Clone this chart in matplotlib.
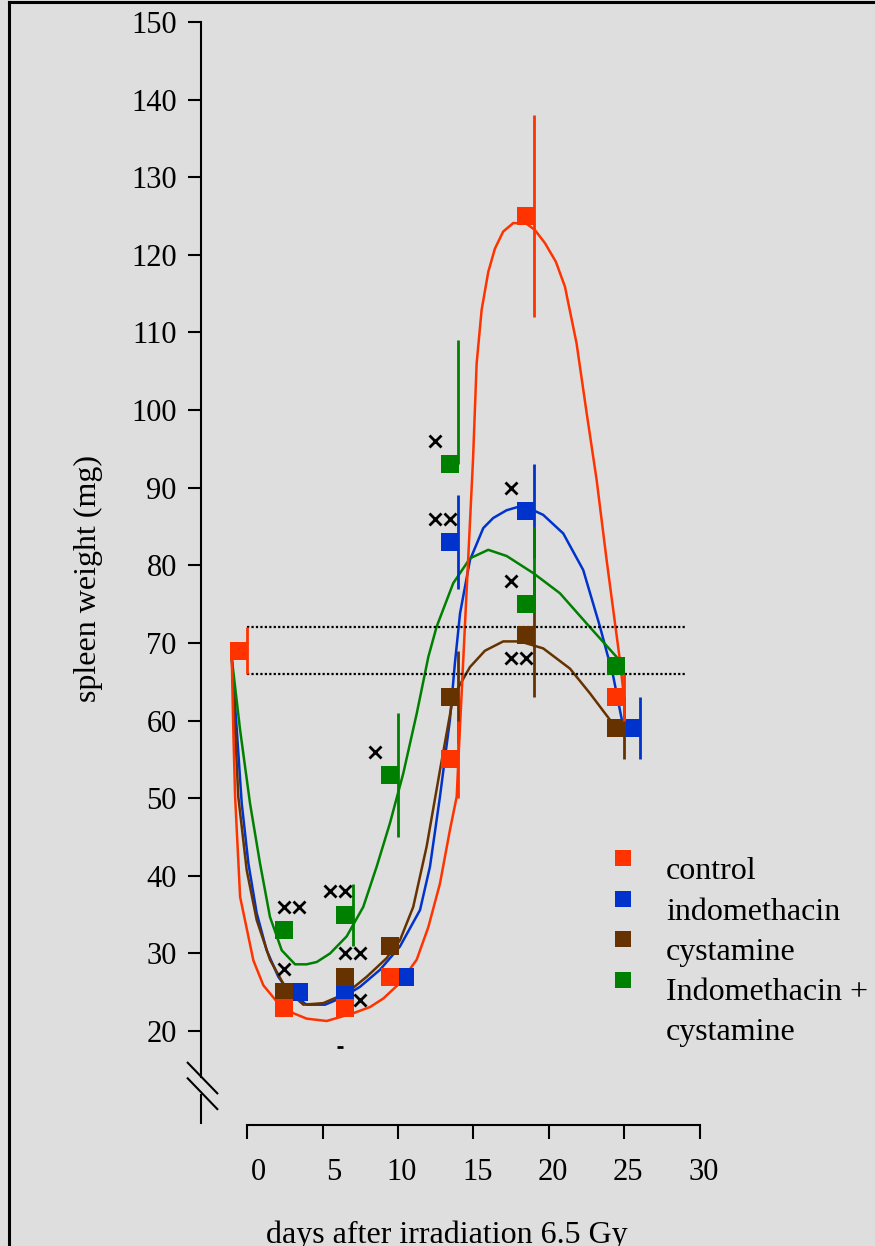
import matplotlib
matplotlib.use("Agg")
import matplotlib.pyplot as plt
import matplotlib.transforms as mtransforms
from matplotlib.lines import Line2D
import numpy as np

plt.rcParams["font.family"] = ["Liberation Serif", "DejaVu Serif"]

# measured group means (day, spleen weight mg) and error bars (below / above)
ctrl_days = [0, 3, 7, 10, 14, 19, 25]
ctrl_vals = [69, 23, 23, 27, 55, 125, 63]
ctrl_lo = [3, 0, 0, 0, 5, 13, 3]
ctrl_hi = [3, 0, 0, 0, 5, 13, 3]

indo_days = [4, 7, 11, 14, 19, 26]
indo_vals = [25, 25, 27, 83, 87, 59]
indo_lo = [0, 0, 0, 6, 6, 4]
indo_hi = [0, 0, 0, 6, 6, 4]

cyst_days = [3, 7, 10, 14, 19, 25]
cyst_vals = [25, 27, 31, 63, 71, 59]
cyst_lo = [0, 0, 0, 6, 8, 4]
cyst_hi = [0, 0, 0, 6, 8, 4]

both_days = [3, 7, 10, 14, 19, 25]
both_vals = [33, 35, 53, 93, 75, 67]
both_lo = [0, 4, 8, 0, 0, 0]
both_hi = [0, 4, 8, 16, 10, 0]

# fitted curves
ctrl_fit_x = [-1.01, -0.91, -0.79, -0.46, 0.42, 1.08, 1.97, 3.07, 3.95, 5.28, 7.04, 8.15,
              9.03, 10.13, 11.24, 12.01, 12.78, 13.44, 13.89, 14.0, 14.97, 15.21, 15.54,
              15.98, 16.42, 16.97, 17.64, 18.52, 19.07, 19.74, 20.46, 21.06, 21.83, 22.5,
              23.16, 23.82, 24.7, 24.97]
ctrl_fit_y = [68.0, 58.8, 50.2, 37.3, 29.1, 25.9, 23.8, 22.3, 21.6, 21.3, 22.3, 23.1,
              24.2, 26.2, 29.2, 33.4, 39.0, 45.9, 50.2, 54.9, 93.6, 106.0, 112.9,
              117.8, 120.8, 123.0, 124.1, 124.0, 123.2, 121.5, 119.1, 115.9, 108.6, 99.6,
              91.0, 80.7, 67.8, 63.0]

indo_fit_x = [-1.01, -0.68, -0.35, 0.09, 0.64, 1.30, 2.07, 2.85, 3.95, 5.17, 6.38, 7.48,
              8.81, 10.13, 11.46, 12.12, 12.78, 13.44, 13.77, 14.11, 14.77, 15.65, 16.31,
              17.2, 18.08, 18.96, 19.62, 20.95, 22.27, 23.38, 24.26, 24.92]
indo_fit_y = [68.0, 58.8, 49.3, 41.6, 35.2, 30.4, 27.0, 24.9, 23.4, 23.4, 24.4, 25.7,
              27.9, 30.9, 35.6, 41.2, 50.2, 60.1, 67.4, 73.8, 80.7, 84.8, 86.1,
              87.1, 87.6, 87.1, 86.5, 84.1, 79.4, 72.1, 65.7, 59.2]

cyst_fit_x = [-1.01, -0.58, -0.02, 0.64, 1.52, 2.63, 3.73, 5.05, 6.6, 7.93, 9.25, 10.13,
              11.01, 11.9, 12.78, 13.66, 14.77, 15.76, 16.97, 18.08, 19.62, 21.39, 22.72,
              24.04, 24.97]
cyst_fit_y = [68.0, 50.2, 40.7, 34.3, 29.2, 25.3, 23.4, 23.6, 24.9, 27.0, 29.4, 31.7,
              36.0, 43.8, 53.6, 63.1, 66.9, 69.0, 70.2, 70.2, 69.3, 66.7, 63.5,
              60.1, 58.9]

both_fit_x = [-1.01, -0.46, 0.2, 0.86, 1.52, 2.3, 3.18, 3.95, 4.62, 5.5, 6.6, 7.7, 8.59,
              9.47, 10.35, 11.24, 12.01, 12.56, 13.66, 14.77, 15.98, 17.2, 18.96, 20.73,
              22.5, 24.48]
both_fit_y = [68.0, 58.8, 49.3, 41.6, 34.7, 30.4, 28.6, 28.6, 28.9, 30.0, 32.2, 36.0, 41.2,
              46.8, 53.2, 60.9, 68.2, 72.1, 77.7, 80.9, 82.0, 81.2, 79.0, 76.4,
              72.5, 68.2]

# significance marks (x) and the lone dash
sig_days = [3, 3, 4, 6, 7, 7, 8, 8, 9, 13, 13, 14, 18, 18, 18, 19]
sig_vals = [28, 36, 36, 38, 38, 30, 30, 24, 56, 96, 86, 86, 90, 78, 68, 68]
dash_day, dash_val = 6.7, 18

normal_range = [66, 72]
x_ticks = [0, 5, 10, 15, 20, 25, 30]
y_ticks = list(range(20, 151, 10))

RED, BLUE, BROWN, GREEN = "#ff3300", "#0033cc", "#663300", "#008000"
BG = "#dedede"

fig = plt.figure(figsize=(8.75, 12.46), dpi=100, facecolor=BG)
ax = fig.add_axes([201 / 875, 121 / 1246, 674 / 875, 1125 / 1246])
ax.set_facecolor("none")
ax.set_xlim(-3.05, 41.6)
ax.set_ylim(7.9, 152.83)

sq = mtransforms.offset_copy(ax.transData, fig=fig, x=-8, y=0, units="dots")

for fx, fy, c in [(indo_fit_x, indo_fit_y, BLUE), (cyst_fit_x, cyst_fit_y, BROWN),
                  (both_fit_x, both_fit_y, GREEN), (ctrl_fit_x, ctrl_fit_y, RED)]:
    ax.plot(fx, fy, color=c, lw=1.8, zorder=2)

ax.hlines(normal_range, 0, 29, colors="black", linestyles=(0, (1, 1)), lw=1.6, zorder=2)

groups = [
    (indo_days, indo_vals, indo_lo, indo_hi, BLUE),
    (cyst_days, cyst_vals, cyst_lo, cyst_hi, BROWN),
    (both_days, both_vals, both_lo, both_hi, GREEN),
    (ctrl_days, ctrl_vals, ctrl_lo, ctrl_hi, RED),
]
for i, (d, v, lo, hi, c) in enumerate(groups):
    v = np.array(v)
    ax.vlines(d, v - np.array(lo), v + np.array(hi), colors=c, lw=2, zorder=3 + i)
    ax.plot(d, v, "s", color=c, ms=12.4, mec=c, mew=0, transform=sq, zorder=3 + i, clip_on=False)

ax.plot(sig_days, sig_vals, "x", color="black", ms=8.5, mew=2, transform=sq, zorder=10)
ax.plot([dash_day], [dash_val], "_", color="black", ms=4, mew=2, transform=sq, zorder=10)

# axes styling
for s in ["top", "right"]:
    ax.spines[s].set_visible(False)
ax.spines["left"].set_linewidth(1.5)
ax.spines["bottom"].set_linewidth(1.5)
ax.spines["left"].set_bounds(14.1, 150)
ax.spines["bottom"].set_bounds(0, 30)
ax.plot([-3.05, -3.05], [8.15, 11.8], color="black", lw=1.5, clip_on=False)
ax.plot([-3.93, -1.97], [15.92, 11.98], color="black", lw=1.5, clip_on=False)
ax.plot([-3.93, -1.97], [13.91, 9.95], color="black", lw=1.5, clip_on=False)

ax.set_yticks(y_ticks)
ax.set_xticks(x_ticks)
ax.tick_params(axis="y", length=9.4, width=1.5, pad=8, labelsize=22)
ax.tick_params(axis="x", length=10, width=1.5, pad=14, labelsize=22)
for lab in ax.get_xticklabels():
    lab.set_ha("right")
    lab.set_transform(lab.get_transform() + mtransforms.ScaledTranslation(0.19, 0, fig.dpi_scale_trans))

fig.text(88 / 875, 1 - 578 / 1246, "spleen weight (mg)", rotation=90, ha="center", va="center", fontsize=23)
fig.text(447 / 875, 3 / 1246, "days after irradiation 6.5 Gy", ha="center", va="baseline", fontsize=23)

# legend
leg_labels = ["control", "indomethacin", "cystamine", "Indomethacin +"]
leg_colors = [RED, BLUE, BROWN, GREEN]
for k, (lab, c) in enumerate(zip(leg_labels, leg_colors)):
    ym = 858 + 40.5 * k
    fig.add_artist(Line2D([623 / 875], [1 - ym / 1246], marker="s", color=c, ms=12.2, mew=0, ls=""))
    fig.text(666 / 875, 1 - (ym + 21) / 1246, lab, ha="left", va="baseline", fontsize=23)
fig.text(666 / 875, 1 - 1040 / 1246, "cystamine", ha="left", va="baseline", fontsize=23)

# outer frame (left and top edges visible)
fig.add_artist(Line2D([9 / 875, 9 / 875], [0, 1 - 1.5 / 1246], color="black", lw=2.2))
fig.add_artist(Line2D([9 / 875, 1], [1 - 1.5 / 1246, 1 - 1.5 / 1246], color="black", lw=2.2))

fig.savefig("out.png", dpi=100, facecolor=BG)
